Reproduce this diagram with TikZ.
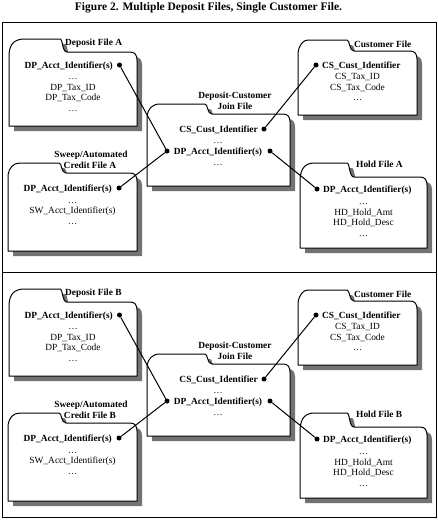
\documentclass[tikz,border=0pt]{standalone}
\usepackage{fontspec}
\setmainfont{Liberation Serif}
\tikzset{
 folderf/.style={draw=black, fill=white, line width=1pt, line join=round},
 shadowf/.style={fill=black!55},
 txt/.style={font=\fontsize{9.4}{11}\selectfont, inner sep=0pt, anchor=base},
 bld/.style={txt, font=\fontsize{9.4}{11}\selectfont\bfseries},
 dotn/.style={circle, fill=black, inner sep=0pt, minimum size=5pt},
 conn/.style={line width=1pt},
 framel/.style={line width=1pt},
}
% #1 style, #2 L, #3 T, #4 R, #5 B, #6 tab top, #7 tab start, #8 tab end
\newcommand\fpath[8]{%
 \path[#1] (#2,#5) -- (#2,{#3+2}) .. controls ({#2+1},{#6+5}) and ({#2+5},#6) .. (#7,#6)
  -- (#8,#6) .. controls ({#8+3},#6) and ({#8+2},#3) .. ({#8+7},#3)
  -- ({#4-7},#3) .. controls ({#4-2},#3) and (#4,{#3+3}) .. (#4,{#3+8})
  -- (#4,#5) -- cycle;}
\newcommand\folder[7]{%
 \fpath{shadowf,shift={(5,5)}}{#1}{#2}{#3}{#4}{#5}{#6}{#7}%
 \fpath{folderf}{#1}{#2}{#3}{#4}{#5}{#6}{#7}}
\newcommand\panel[2]{%
 % Deposit file
 \folder{9}{52}{137}{126}{39}{25}{60}
 \node[bld, anchor=base west] (depT#1) at (65,45.5) {Deposit File #2};
 \node[bld, anchor=base east] (depK#1) at (113,68.5) {DP\_Acct\_Identifier(s)};
 \node[dotn] (depD#1) at (119.5,65) {};
 \node[txt] (depE1#1) at (73,79.3) {\dots};
 \node[txt] (depF1#1) at (73,90.1) {DP\_Tax\_ID};
 \node[txt] (depF2#1) at (73,100.9) {DP\_Tax\_Code};
 \node[txt] (depE2#1) at (73,111.7) {\dots};
 % Customer file
 \folder{298}{51}{417}{115}{40}{308}{347}
 \node[bld, anchor=base west] (cusT#1) at (354,47.5) {Customer File};
 \node[dotn] (cusD#1) at (316,65) {};
 \node[bld, anchor=base west] (cusK#1) at (322,68.5) {CS\_Cust\_Identifier};
 \node[txt] (cusF1#1) at (357.5,79.3) {CS\_Tax\_ID};
 \node[txt] (cusF2#1) at (357.5,90.1) {CS\_Tax\_Code};
 \node[txt] (cusE#1) at (357.5,100.9) {\dots};
 % Join file
 \folder{147}{114}{290}{186}{104}{160}{205}
 \node[bld] (jnT1#1) at (235,98.5) {Deposit-Customer};
 \node[bld] (jnT2#1) at (235,109.5) {Join File};
 \node[bld, anchor=base east] (jnCK#1) at (258,132.5) {CS\_Cust\_Identifier};
 \node[dotn] (jnC#1) at (264,129) {};
 \node[txt] (jnE1#1) at (218,143.8) {\dots};
 \node[bld] (jnDK#1) at (218,154.5) {DP\_Acct\_Identifier(s)};
 \node[dotn] (jnDl#1) at (167,151) {};
 \node[dotn] (jnDr#1) at (270,151) {};
 \node[txt] (jnE2#1) at (218,165.5) {\dots};
 % Sweep file
 \folder{8}{173}{137}{251}{163}{20}{59}
 \node[bld] (swT1#1) at (91,157.5) {Sweep/Automated};
 \node[bld] (swT2#1) at (90,168.5) {Credit File #2};
 \node[bld, anchor=base east] (swK#1) at (112,191.5) {DP\_Acct\_Identifier(s)};
 \node[dotn] (swD#1) at (119,188) {};
 \node[txt] (swE1#1) at (72.5,203) {\dots};
 \node[txt] (swF#1) at (72.5,213.8) {SW\_Acct\_Identifier(s)};
 \node[txt] (swE2#1) at (72.5,224.6) {\dots};
 % Hold file
 \folder{300}{177}{427}{248}{163}{315}{347}
 \node[bld, anchor=base west] (hdT#1) at (356,167.5) {Hold File #2};
 \node[dotn] (hdD#1) at (317,189) {};
 \node[bld, anchor=base west] (hdK#1) at (323,192.5) {DP\_Acct\_Identifier(s)};
 \node[txt] (hdE1#1) at (363.5,204) {\dots};
 \node[txt] (hdF1#1) at (363.5,215) {HD\_Hold\_Amt};
 \node[txt] (hdF2#1) at (363.5,225.8) {HD\_Hold\_Desc};
 \node[txt] (hdE2#1) at (363.5,236.6) {\dots};
 % connectors
 \draw[conn] (depD#1) -- (jnDl#1);
 \draw[conn] (cusD#1) -- (jnC#1);
 \draw[conn] (swD#1) -- (jnDl#1);
 \draw[conn] (jnDr#1) -- (hdD#1);
}
\begin{document}
\begin{tikzpicture}[x=1pt,y=-1pt]
\useasboundingbox (0,0) rectangle (438,522);
\fill[white] (0,0) rectangle (438,522);
\node[font=\fontsize{11.5}{13}\selectfont\bfseries, anchor=base, inner sep=0pt] (title) at (208.5,10.5) {Figure 2. Multiple Deposit Files, Single Customer File.};
\draw[framel] (2,22) rectangle (436,517);
\draw[framel] (2,272) -- (436,272);
\begin{scope}
\panel{a}{A}
\end{scope}
\begin{scope}[shift={(0,250)}]
\panel{b}{B}
\end{scope}
\end{tikzpicture}
\end{document}
